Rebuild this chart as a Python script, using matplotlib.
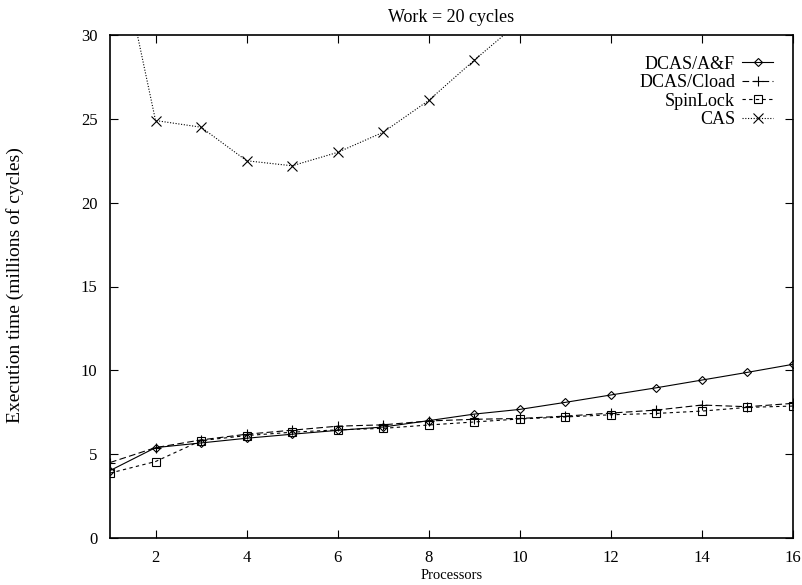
import matplotlib
matplotlib.use("Agg")
import matplotlib.pyplot as plt

# ---- data ----
processors = list(range(1, 17))
dcas_af = [4.02, 5.39, 5.67, 5.95, 6.19, 6.42, 6.62, 7.0, 7.39, 7.67, 8.09, 8.53, 8.96, 9.42, 9.88, 10.36]
dcas_cload = [4.5, 5.39, 5.85, 6.19, 6.43, 6.67, 6.75, 6.98, 7.08, 7.13, 7.27, 7.45, 7.63, 7.93, 7.83, 8.03]
spinlock = [3.87, 4.56, 5.81, 6.11, 6.31, 6.45, 6.54, 6.74, 6.92, 7.10, 7.22, 7.35, 7.43, 7.57, 7.79, 7.87]
cas_x = list(range(1, 11))
cas = [37.7, 24.9, 24.5, 22.5, 22.2, 23.0, 24.2, 26.1, 28.5, 30.8]

labels = ["DCAS/A&F", "DCAS/Cload", "SpinLock", "CAS"]
title = "Work = 20 cycles"
xlabel = "Processors"
ylabel = "Execution time (millions of cycles)"
xticks = [2, 4, 6, 8, 10, 12, 14, 16]
yticks = [0, 5, 10, 15, 20, 25, 30]

plt.rcParams['font.family'] = ['Liberation Serif', 'DejaVu Serif']

fig = plt.figure(figsize=(8.02, 5.85), dpi=100)
ax = fig.add_axes([110/802, 1-538/585, (793-110)/802, (538-35)/585])

lw = 0.8
ax.plot(processors, dcas_af, color='black', lw=lw, ls='-', marker='D', ms=4.3,
        mfc='none', mec='black', mew=0.8, label=labels[0])
ax.plot(processors, dcas_cload, color='black', lw=lw, ls=(0, (6, 3)), marker='+', ms=6.5,
        mec='black', mew=0.8, label=labels[1])
ax.plot(processors, spinlock, color='black', lw=lw, ls=(0, (3, 3)), marker='s', ms=5.8,
        mfc='none', mec='black', mew=0.8, label=labels[2])
ax.plot(cas_x, cas, color='black', lw=lw, ls=(0, (1, 1.5)), marker='x', ms=6.5,
        mec='black', mew=0.8, label=labels[3])

ax.set_xlim(1, 16)
ax.set_ylim(0, 30)
ax.set_xticks(xticks)
ax.set_yticks(yticks)
ax.tick_params(direction='in', length=6, width=0.8, top=True, right=True,
               labelsize=12, colors='black')
ax.tick_params(axis='x', pad=9)
ax.tick_params(axis='y', pad=9)
for s in ax.spines.values():
    s.set_linewidth(1.2)

ax.set_title(title, fontsize=13, pad=9)
ax.set_xlabel(xlabel, fontsize=10.5, labelpad=2)
fig.text(15/802, 1-285/585, ylabel, rotation=90, ha='center', va='center', fontsize=14)

leg = ax.legend(loc='upper right', bbox_to_anchor=(0.9707, 0.959), frameon=False,
                markerfirst=False, handlelength=1.7, handletextpad=0.4,
                labelspacing=0.08, borderpad=0, borderaxespad=0, numpoints=1,
                prop={'size': 13})

fig.savefig("out.png", dpi=100)
